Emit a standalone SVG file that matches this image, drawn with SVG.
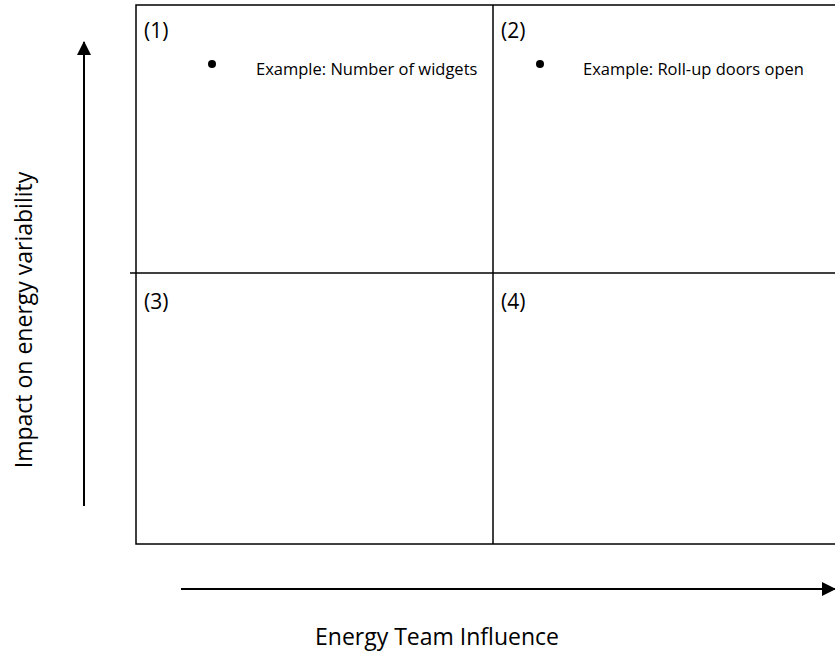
<svg xmlns="http://www.w3.org/2000/svg" width="835" height="652" viewBox="0 0 835 652">
<style>
.ln{stroke:#000;stroke-width:1.5;fill:none}
.num{font-family:"Open Sans","Liberation Sans",sans-serif;font-size:21px;fill:#000}
.ax{font-family:"Open Sans","Liberation Sans",sans-serif;font-size:23px;fill:#000}
.ex{font-family:"Open Sans","Liberation Sans",sans-serif;font-size:16.5px;fill:#000}
</style>
<defs>
<marker id="ah" markerWidth="14" markerHeight="14" refX="13" refY="7" orient="auto" markerUnits="userSpaceOnUse" viewBox="0 0 14 14">
<path d="M0,0 L14,7 L0,14 z" fill="#000"/>
</marker>
</defs>
<rect width="835" height="652" fill="#fff"/>
<g id="grid">
<rect class="ln" x="136" y="5" width="710" height="539"/>
<line class="ln" x1="493" y1="5" x2="493" y2="544"/>
<line class="ln" x1="130" y1="273" x2="835" y2="273"/>
</g>
<g id="q1">
<text class="num" x="144" y="38">(1)</text>
<circle cx="212" cy="64" r="4" fill="#000"/>
<text class="ex" x="256" y="75">Example: Number of widgets</text>
</g>
<g id="q2">
<text class="num" x="501" y="38">(2)</text>
<circle cx="540" cy="64" r="4" fill="#000"/>
<text class="ex" x="583" y="75">Example: Roll-up doors open</text>
</g>
<g id="q3">
<text class="num" x="144" y="309">(3)</text>
</g>
<g id="q4">
<text class="num" x="501" y="309">(4)</text>
</g>
<g id="connectors">
<line x1="84" y1="506" x2="84" y2="42" stroke="#000" stroke-width="2" marker-end="url(#ah)"/>
<line x1="181" y1="589" x2="835" y2="589" stroke="#000" stroke-width="2" marker-end="url(#ah)"/>
</g>
<text class="ax" x="315" y="645">Energy Team Influence</text>
<text class="ax" transform="translate(32,320) rotate(-90)" text-anchor="middle">Impact on energy variability</text>
</svg>
